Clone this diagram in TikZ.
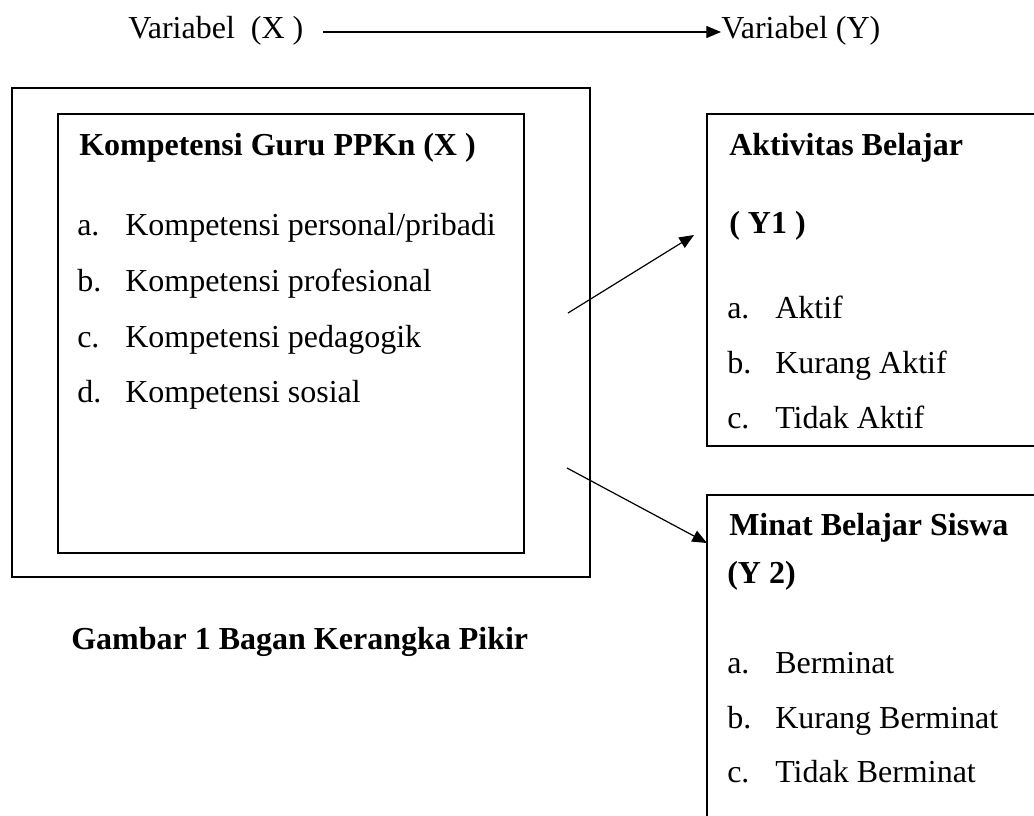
\documentclass[tikz,border=0pt]{standalone}
\usepackage{fontspec}
\setmainfont{Liberation Serif}
\usetikzlibrary{arrows.meta,fit}
\begin{document}
\begin{tikzpicture}[x=0.75pt,y=-0.75pt,
  box/.style={draw,line width=1.1pt,inner sep=0pt},
  txt/.style={anchor=base west,inner sep=0pt,font=\fontsize{24pt}{28pt}\selectfont},
  btxt/.style={txt,font=\fontsize{24pt}{28pt}\selectfont\bfseries},
  conn/.style={line width=0.9pt,-{Triangle[length=11pt,width=9pt]}}]
\useasboundingbox (0,0) rectangle (1034,815);
\clip (0,0) rectangle (1034,815);
\newcommand{\itm}[2]{\makebox[36pt][l]{#1}#2}
% top line
\node[txt] (vx) at (128,38) {Variabel\ \ (X )};
\node[txt] (vy) at (721,38) {Variabel (Y)};
\coordinate (vxs) at (323,32);
\coordinate (vye) at (721,32);
\draw[conn] (vxs) -- (vye);
% left boxes
\node[box,fit={(12,88) (590,577)}] (outer) {};
\node[box,fit={(58,114) (524,553)}] (inner) {};
\node[btxt] (xh) at (79,155) {Kompetensi Guru PPKn (X )};
\node[txt] (xa) at (77,235) {\itm{a.}{Kompetensi personal/pribadi}};
\node[txt] (xb) at (77,291) {\itm{b.}{Kompetensi profesional}};
\node[txt] (xc) at (77,347) {\itm{c.}{Kompetensi pedagogik}};
\node[txt] (xd) at (77,402) {\itm{d.}{Kompetensi sosial}};
\node[btxt] (cap) at (71,649) {Gambar 1 Bagan Kerangka Pikir};
% Y1 box
\node[box,fit={(707,114) (1050,446)}] (y1) {};
\node[btxt] (y1h) at (729,155) {Aktivitas Belajar};
\node[btxt] (y1l) at (729,233) {( Y1 )};
\node[txt] (y1a) at (727,318) {\itm{a.}{Aktif}};
\node[txt] (y1b) at (727,373) {\itm{b.}{Kurang Aktif}};
\node[txt] (y1c) at (727,428) {\itm{c.}{Tidak Aktif}};
% Y2 box
\node[box,fit={(707,495) (1050,840)}] (y2) {};
\node[btxt] (y2h) at (729,535) {Minat Belajar Siswa};
\node[btxt] (y2l) at (727,583) {(Y 2)};
\node[txt] (y2a) at (727,673) {\itm{a.}{Berminat}};
\node[txt] (y2b) at (727,728) {\itm{b.}{Kurang Berminat}};
\node[txt] (y2c) at (727,782) {\itm{c.}{Tidak Berminat}};
% arrows
\coordinate (s1) at (568,313);
\coordinate (e1) at (694,235);
\coordinate (s2) at (567,468);
\coordinate (e2) at (707,543);
\draw[conn] (s1) -- (e1);
\draw[conn] (s2) -- (e2);
\end{tikzpicture}
\end{document}
